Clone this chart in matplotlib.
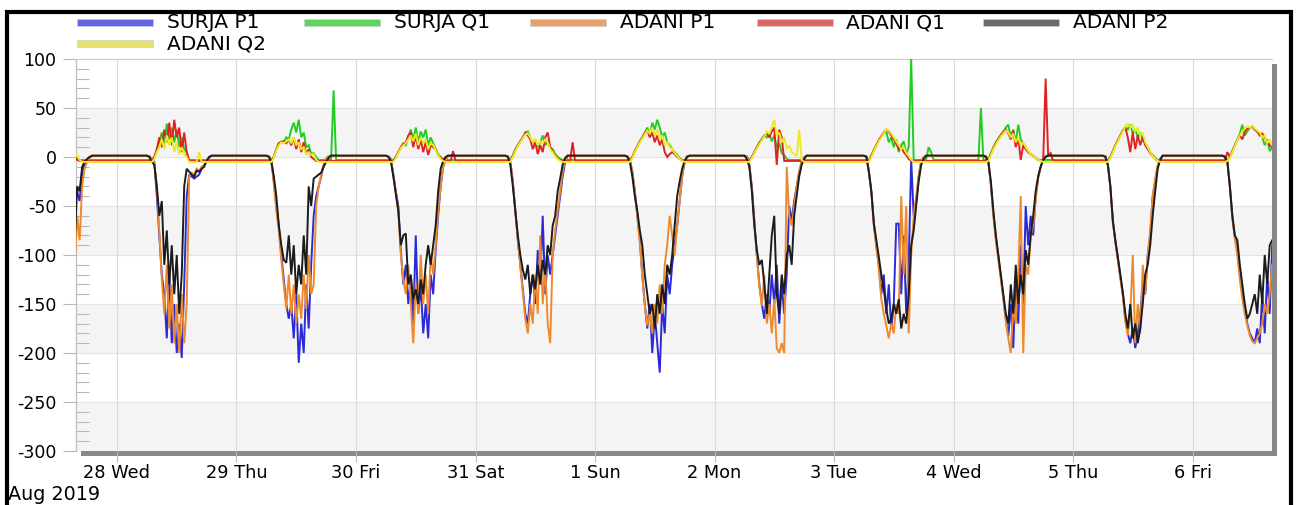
import matplotlib
matplotlib.use("Agg")
import matplotlib.pyplot as plt
from matplotlib.patches import Rectangle

plt.rcParams['font.family'] = ['DejaVu Sans']

# ---------------- labels ----------------
series_labels = ["SURJA P1", "SURJA Q1", "ADANI P1", "ADANI Q1", "ADANI P2", "ADANI Q2"]
day_labels = ["28 Wed", "29 Thu", "30 Fri", "31 Sat", "1 Sun", "2 Mon",
              "3 Tue", "4 Wed", "5 Thu", "6 Fri"]
month_label = "Aug 2019"
y_tick_values = [100, 50, 0, -50, -100, -150, -200, -250, -300]

# ---------------- sampling hours ----------------
# evening of 27 Aug (day -1), then each day 28 Aug .. 6 Sep, half-hour samples
eve_hours = [15.5, 16.0, 16.5, 17.0, 17.5, 18.0, 18.5, 19.0, 19.5, 20.0]
day_hours = [5.0, 5.5, 6.0, 6.5, 7.0, 7.5, 8.0, 8.5, 9.0, 9.5, 10.0, 10.5,
             11.0, 11.5, 12.0, 12.5, 13.0, 13.5, 14.0, 14.5, 15.0, 15.5, 16.0,
             16.5, 17.0, 17.5, 18.0, 18.5, 19.0, 19.5, 20.0]

# ---------------- SURJA P1 ----------------
surja_p1_eve = [-50, -35, -45, -15, -8, -3, 0, 1, 1, 1]
surja_p1_days = [
    [1, 1, 1, 1, -2, -5, -40, -80, -120, -140, -185, -120, -190, -150, -200, -170, -205, -130, -40, -18, -20, -22, -20, -18, -12, -8, -4, 0, 1, 1, 1],
    [1, 1, 1, 1, -3, -25, -50, -70, -100, -125, -150, -165, -150, -185, -140, -210, -170, -200, -130, -175, -110, -60, -40, -30, -20, -8, -2, 1, 1, 1, 1],
    [1, 1, 1, 1, -2, -18, -35, -50, -95, -130, -110, -150, -125, -170, -80, -160, -130, -180, -150, -185, -120, -140, -95, -60, -30, -10, -3, 1, 1, 1, 1],
    [1, 1, 1, 1, -5, -25, -55, -85, -110, -135, -160, -170, -140, -120, -150, -95, -130, -60, -140, -100, -120, -100, -80, -60, -40, -20, -5, 1, 1, 1, 1],
    [1, 1, 1, 1, -3, -15, -35, -60, -85, -120, -150, -175, -150, -200, -160, -190, -220, -150, -180, -120, -140, -110, -90, -70, -45, -20, -5, 1, 1, 1, 1],
    [1, 1, 1, 1, -8, -30, -65, -100, -130, -150, -165, -140, -160, -120, -150, -110, -170, -130, -160, -120, -50, -65, -45, -30, -15, -5, 0, 1, 1, 1, 1],
    [1, 1, 1, 1, -15, -35, -68, -90, -110, -140, -120, -160, -130, -175, -150, -68, -68, -140, -80, -160, -110, -2, -60, -45, -20, -5, 0, 1, 1, 1, 1],
    [1, 1, 1, 1, -5, -28, -58, -82, -102, -122, -143, -165, -183, -150, -195, -120, -170, -90, -150, -50, -90, -60, -80, -40, -20, -10, -3, 1, 1, 1, 1],
    [1, 1, 1, 1, -8, -30, -66, -86, -104, -122, -140, -165, -180, -190, -175, -195, -180, -160, -130, -140, -100, -80, -40, -25, -10, -2, 1, 1, 1, 1, 1],
    [1, 1, 1, 1, -5, -30, -62, -82, -95, -120, -140, -155, -170, -180, -185, -190, -175, -190, -140, -180, -120, -160, -90],
]

# ---------------- SURJA Q1 ----------------
surja_q1_eve = [0, -2, -3, -3, -3, -3, -3, -3, -3, -3]
surja_q1_days = [
    [-3, -3, -3, -3, -3, 0, 8, 15, 25, 12, 34, 18, 30, 15, 28, 10, 20, 8, 5, -3, -3, -3, -3, -3, -3, -3, -3, -3, -3, -3, -3],
    [-3, -3, -3, -3, -3, 0, 8, 14, 16, 15, 20, 18, 28, 35, 25, 38, 20, 25, 10, 12, 3, 4, 0, -3, -3, -3, -3, -3, -3, 68, -3],
    [-3, -3, -3, -3, -3, -3, 0, 5, 10, 14, 12, 20, 28, 18, 30, 15, 26, 20, 28, 12, 20, 14, 8, 3, 0, -2, -3, -3, -3, -3, -3],
    [-3, -3, -3, -3, -3, 2, 8, 12, 16, 20, 24, 26, 20, 14, 18, 10, 15, 22, 12, 16, 10, 8, 3, 0, -2, -3, -3, -3, -3, -3, -3],
    [-3, -3, -3, -3, -3, 0, 6, 11, 16, 20, 25, 30, 22, 35, 28, 38, 30, 20, 25, 15, 12, 8, 5, 2, -1, -3, -3, -3, -3, -3, -3],
    [-3, -3, -3, -3, -3, 0, 5, 10, 15, 18, 22, 20, 24, 16, 22, 10, 14, 4, 2, -2, -3, -3, -3, -3, -3, -3, -3, -3, -3, -3, -3],
    [-3, -3, -3, -3, -3, 2, 7, 12, 17, 21, 24, 26, 15, 20, 10, 18, 5, 12, 16, 3, 10, 100, -3, -3, -3, -3, -3, -3, 10, 5, -3],
    [-3, 50, -3, -3, -2, 4, 10, 15, 19, 23, 26, 30, 33, 20, 28, 15, 33, 18, 14, 10, 5, 3, 1, -1, -3, -3, -3, -3, -3, -3, -3],
    [-3, -3, -3, -3, -3, 0, 6, 12, 17, 22, 27, 31, 28, 33, 24, 28, 20, 25, 18, 14, 10, 5, 2, -1, -3, -3, -3, -3, -3, -3, -3],
    [-3, -3, -3, -3, -3, 0, 6, 12, 18, 24, 33, 22, 26, 30, 31, 28, 26, 24, 20, 12, 18, 6, 10],
]

# ---------------- ADANI P1 ----------------
adani_p1_eve = [-110, -60, -85, -30, -12, -5, -1, 1, 1, 1]
adani_p1_days = [
    [1, 1, 1, 1, -2, -6, -30, -75, -125, -160, -110, -175, -130, -190, -150, -200, -140, -190, -150, -20, -16, -18, -12, -14, -10, -8, -4, -1, 1, 1, 1],
    [1, 1, 1, 1, -3, -28, -55, -75, -105, -130, -155, -120, -160, -130, -170, -140, -165, -120, -155, -100, -140, -130, -50, -30, -18, -8, -3, 1, 1, 1, 1],
    [1, 1, 1, 1, -2, -18, -36, -55, -100, -125, -140, -110, -150, -190, -130, -160, -100, -150, -120, -160, -100, -120, -90, -55, -30, -10, -3, 1, 1, 1, 1],
    [1, 1, 1, 1, -5, -25, -55, -85, -112, -138, -165, -180, -150, -170, -120, -160, -80, -150, -110, -170, -190, -100, -75, -55, -35, -15, -3, 1, 1, 1, 1],
    [1, 1, 1, 1, -3, -15, -35, -62, -88, -122, -152, -172, -160, -180, -150, -170, -130, -160, -110, -90, -60, -80, -100, -70, -45, -20, -5, 1, 1, 1, 1],
    [1, 1, 1, 1, -8, -32, -68, -100, -132, -152, -120, -170, -150, -180, -145, -195, -200, -190, -200, -10, -60, -70, -50, -30, -15, -5, 0, 1, 1, 1, 1],
    [1, 1, 1, 1, -15, -36, -70, -92, -115, -145, -160, -172, -185, -170, -180, -150, -160, -40, -120, -50, -180, -100, -60, -40, -20, -5, 0, 1, 1, 1, 1],
    [1, 1, 1, 1, -5, -28, -60, -85, -105, -125, -145, -168, -185, -200, -150, -170, -120, -40, -200, -110, -120, -80, -70, -45, -22, -10, -3, 1, 1, 1, 1],
    [1, 1, 1, 1, -8, -31, -67, -87, -105, -124, -142, -168, -182, -160, -100, -190, -150, -180, -110, -140, -100, -75, -40, -22, -8, -2, 1, 1, 1, 1, 1],
    [1, 1, 1, 1, -5, -30, -62, -83, -100, -125, -145, -160, -172, -182, -188, -190, -185, -180, -170, -150, -160, -140, -110],
]

# ---------------- ADANI Q1 ----------------
adani_q1_eve = [-1, -3, -4, -4, -4, -4, -4, -4, -4, -4]
adani_q1_days = [
    [-4, -4, -4, -4, -4, 0, 8, 20, 10, 28, 15, 35, 12, 38, 20, 30, 5, 25, 5, -4, -4, -4, -4, -4, -4, -4, -4, -4, -4, -4, -4],
    [-4, -4, -4, -4, -4, 0, 8, 14, 15, 16, 14, 18, 12, 20, 8, 18, 5, 15, 3, 8, 0, -2, -4, -4, -4, -4, -4, -4, -4, -4, -4],
    [-4, -4, -4, -4, -4, -4, 0, 5, 10, 13, 15, 22, 25, 10, 22, 8, 18, 5, 15, 2, 12, 10, 8, 2, -1, -3, -4, -4, -4, 6, -4],
    [-4, -4, -4, -4, -4, 1, 7, 12, 16, 20, 25, 22, 18, 8, 15, 3, 12, 5, 20, 25, 10, 6, 2, -1, -3, -4, -4, -4, -4, 15, -4],
    [-4, -4, -4, -4, -4, 0, 6, 11, 16, 20, 24, 28, 20, 25, 15, 22, 12, 18, 5, 0, 3, 5, 3, 0, -2, -4, -4, -4, -4, -4, -4],
    [-4, -4, -4, -4, -4, 0, 5, 10, 14, 18, 22, 24, 20, 26, 30, -8, 28, 20, -4, -4, -4, -4, -4, -4, -4, -4, -4, -4, -4, -4, -4],
    [-4, -4, -4, -4, -4, 1, 7, 12, 17, 21, 25, 28, 26, 22, 18, 14, 8, 10, 5, 2, -2, -4, -4, -4, -4, -4, -4, -4, -4, -4, -4],
    [-4, -4, -4, -4, -3, 3, 9, 14, 18, 22, 25, 28, 24, 18, 27, 10, 20, -3, 12, 8, 5, 3, 1, -1, -3, -4, -4, 80, 2, 4, -4],
    [-4, -4, -4, -4, -4, 0, 6, 12, 17, 22, 27, 30, 20, 5, 25, 8, 22, 12, 20, 12, 8, 4, 1, -2, -4, -4, -4, -4, -4, -4, -4],
    [-4, -4, -4, -4, 5, 0, 6, 12, 17, 22, 18, 26, 29, 30, 31, 28, 26, 22, 24, 20, 16, 12, 10],
]

# ---------------- ADANI P2 ----------------
adani_p2_eve = [-90, -30, -35, -10, -5, -2, 0, 1.5, 1.5, 1.5]
adani_p2_days = [
    [1.5, 1.5, 1.5, 0, -5, -8, -30, -60, -45, -110, -75, -130, -90, -140, -100, -160, -120, -30, -12, -15, -18, -20, -14, -15, -12, -10, -4, 0, 1.5, 1.5, 1.5],
    [1.5, 1.5, 1.5, 0, -5, -20, -40, -70, -90, -105, -108, -80, -120, -90, -140, -110, -130, -80, -120, -30, -50, -22, -20, -18, -16, -10, -5, -1, 1.5, 1.5, 1.5],
    [1.5, 1.5, 1.5, 0, -4, -20, -38, -55, -90, -80, -78, -130, -120, -145, -135, -150, -125, -140, -110, -90, -110, -90, -70, -35, -12, -4, 0, 1.5, 1.5, 1.5, 1.5],
    [1.5, 1.5, 1.5, 0, -8, -30, -55, -80, -100, -115, -125, -110, -140, -120, -135, -110, -130, -105, -120, -90, -100, -70, -60, -35, -22, -8, -1, 1.5, 1.5, 1.5, 1.5],
    [1.5, 1.5, 1.5, 0, -5, -20, -40, -55, -75, -90, -120, -140, -160, -150, -175, -140, -160, -130, -150, -110, -120, -100, -70, -40, -25, -12, -4, 0, 1.5, 1.5, 1.5],
    [1.5, 1.5, 1.5, -2, -10, -35, -70, -95, -110, -105, -130, -160, -120, -80, -60, -140, -160, -120, -140, -100, -90, -110, -60, -40, -20, -8, -2, 1.5, 1.5, 1.5, 1.5],
    [1.5, 1.5, 1.5, 0, -15, -35, -68, -85, -102, -120, -135, -155, -170, -165, -150, -160, -145, -175, -160, -170, -140, -90, -75, -50, -25, -8, -2, 1.5, 1.5, 1.5, 1.5],
    [1.5, 1.5, 1.5, 0, -5, -25, -55, -80, -100, -120, -140, -160, -170, -130, -160, -110, -150, -120, -140, -95, -110, -80, -60, -35, -20, -10, -3, 0, 1.5, 1.5, 1.5],
    [1.5, 1.5, 1.5, 0, -8, -30, -65, -85, -102, -120, -138, -160, -175, -150, -185, -170, -190, -175, -150, -120, -110, -90, -60, -35, -12, -3, 1.5, 1.5, 1.5, 1.5, 1.5],
    [1.5, 1.5, 1.5, 0, -5, -30, -60, -80, -85, -110, -130, -150, -165, -160, -150, -140, -160, -120, -150, -100, -130, -90, -85],
]

# ---------------- ADANI Q2 ----------------
adani_q2_eve = [5, 2, -3, -5, -5, -5, -5, -5, -5, -5]
adani_q2_days = [
    [-5, -5, -5, -5, -5, -2, 5, 10, 18, 8, 22, 12, 20, 5, 15, 3, 10, 3, 0, -5, -5, -5, -5, 5, -5, -5, -5, -5, -5, -5, -5],
    [-5, -5, -5, -5, -5, -1, 7, 12, 15, 14, 16, 18, 14, 20, 12, 15, 8, 10, 3, 5, 2, 3, -3, -5, -5, -5, -5, -5, -5, -5, -5],
    [-5, -5, -5, -5, -5, -5, -1, 4, 9, 12, 14, 18, 22, 16, 24, 12, 20, 15, 18, 8, 14, 12, 7, 2, -2, -4, -5, -5, -5, -5, -5],
    [-5, -5, -5, -5, -5, 0, 6, 11, 15, 19, 23, 24, 20, 15, 18, 12, 16, 14, 18, 15, 8, 5, 1, -2, -4, -5, -5, -5, -5, -5, -5],
    [-5, -5, -5, -5, -5, -1, 5, 10, 15, 19, 23, 27, 24, 30, 22, 28, 18, 22, 12, 15, 10, 8, 4, 1, -2, -4, -5, -5, -5, -5, -5],
    [-5, -5, -5, -5, -5, -1, 4, 9, 13, 17, 21, 26, 24, 30, 38, 22, 25, 15, 20, 8, 12, 5, 3, 1, 28, -3, -5, -5, -5, -5, -5],
    [-5, -5, -5, -5, -5, 0, 6, 11, 16, 20, 24, 28, 27, 24, 20, 16, 12, 8, 10, 4, 1, -3, -5, -5, -5, -5, -5, -5, -5, -5, -5],
    [-5, -5, -5, -5, -4, 2, 8, 13, 17, 21, 24, 27, 25, 20, 24, 15, 20, 12, 15, 10, 6, 3, 1, -1, -3, -4, -5, -5, -5, -5, -5],
    [-5, -5, -5, -5, -5, -1, 5, 11, 16, 21, 26, 31, 34, 30, 33, 26, 30, 22, 25, 15, 10, 5, 1, -2, -4, -5, -5, -5, -5, -5, -5],
    [-5, -5, -5, -5, -4, -1, 5, 11, 17, 22, 26, 29, 31, 30, 32, 29, 27, 25, 20, 22, 14, 18, 12],
]

series_data = [
    (surja_p1_eve, surja_p1_days),
    (surja_q1_eve, surja_q1_days),
    (adani_p1_eve, adani_p1_days),
    (adani_q1_eve, adani_q1_days),
    (adani_p2_eve, adani_p2_days),
    (adani_q2_eve, adani_q2_days),
]

# ---------------- styles ----------------
line_colors = ['#2a2ad8', '#22cc22', '#ee8a2c', '#e02222', '#1c1c1c', '#eeea22']
swatch_colors = ['#6464e2', '#5cd65c', '#e8a06c', '#e06464', '#6a6a6a', '#e6e06a']

W, H = 1299, 505


def fx(px):
    return px / W


def fy(py):
    return 1 - py / H


def to_series(eve, days):
    xs, ys = [], []
    for h, v in zip(eve_hours, eve):
        xs.append(-1 + h / 24.0)
        ys.append(v)
    for d, vals in enumerate(days):
        for h, v in zip(day_hours, vals):
            xs.append(d + h / 24.0)
            ys.append(v)
    return xs, ys


fig = plt.figure(figsize=(W / 100, H / 100), dpi=100)
fig.patch.set_facecolor('white')

# plot area
left_px, right_px, top_px, bottom_px = 76, 1272, 59, 451
ax = fig.add_axes([fx(left_px), fy(bottom_px), fx(right_px) - fx(left_px),
                   fy(top_px) - fy(bottom_px)])
ax.set_facecolor('white')

# shadow behind plot area
shadow = Rectangle((fx(left_px + 5), fy(bottom_px + 5)),
                   fx(right_px) - fx(left_px), fy(top_px) - fy(bottom_px),
                   transform=fig.transFigure, facecolor='#888888',
                   edgecolor='none', zorder=-5)
fig.add_artist(shadow)

ax.set_xlim(-0.343, 9.665)
ax.set_ylim(-300, 100)

# alternating bands
band_edges = sorted(y_tick_values)
for i in range(len(band_edges) - 1):
    if i % 2 == 0:
        ax.axhspan(band_edges[i], band_edges[i + 1], color='#f4f4f4', zorder=0, lw=0)

for yv in y_tick_values:
    ax.axhline(yv, color='#e4e4e4', lw=0.8, zorder=0.5)
for d in range(len(day_labels)):
    ax.axvline(d, color='#dadada', lw=0.8, zorder=0.5)

# data lines
for k, (eve, days) in enumerate(series_data):
    xs, ys = to_series(eve, days)
    ax.plot(xs, ys, color=line_colors[k], lw=1.4, zorder=2 + k,
            solid_joinstyle='miter')

# ticks
ax.set_yticks(y_tick_values)
ax.set_yticklabels([str(v) for v in y_tick_values], fontsize=12.5)
ax.set_yticks(list(range(-300, 101, 10)), minor=True)
ax.tick_params(axis='y', which='major', direction='out', length=9.5, width=0.8,
               color='#b8b8b8', pad=4.5, labelcolor='black')
ax.tick_params(axis='y', which='minor', direction='in', length=9.5, width=0.8,
               color='#b8b8b8')
ax.set_xticks(list(range(len(day_labels))))
ax.set_xticklabels(day_labels, fontsize=12.8)
ax.tick_params(axis='x', which='major', direction='out', length=8, width=0.8,
               color='#b8b8b8', pad=1.5, labelcolor='black')

for side in ['right', 'bottom']:
    ax.spines[side].set_visible(False)
ax.spines['left'].set_color('#bdbdbd')
ax.spines['left'].set_linewidth(0.9)
ax.spines['top'].set_color('#cfcfcf')
ax.spines['top'].set_linewidth(0.9)

fig.text(fx(8), fy(500), month_label, fontsize=13.8, ha='left', va='baseline')

# legend (manual)
col_x = [77, 303.5, 530, 756.5, 983]
rows = [(0, 0), (0, 1), (0, 2), (0, 3), (0, 4), (1, 0)]
row_center = [22.5, 43.5]
row_base = [28.5, 49]
for k, lab in enumerate(series_labels):
    r, c = rows[k]
    x0 = col_x[c]
    sw = Rectangle((fx(x0), fy(row_center[r] + 3.5)), fx(76), 7 / H,
                   transform=fig.transFigure, facecolor=swatch_colors[k],
                   edgecolor='#cfcfcf', lw=0.5)
    fig.add_artist(sw)
    fig.text(fx(x0 + 90), fy(row_base[r]), lab, fontsize=14.5, ha='left',
             va='baseline')

# outer frame
frame = Rectangle((fx(7), fy(530)), fx(1291) - fx(7), fy(12) - fy(530),
                  transform=fig.transFigure, facecolor='none',
                  edgecolor='black', lw=3, zorder=20, clip_on=False)
fig.add_artist(frame)

fig.savefig('out.png', dpi=100)
